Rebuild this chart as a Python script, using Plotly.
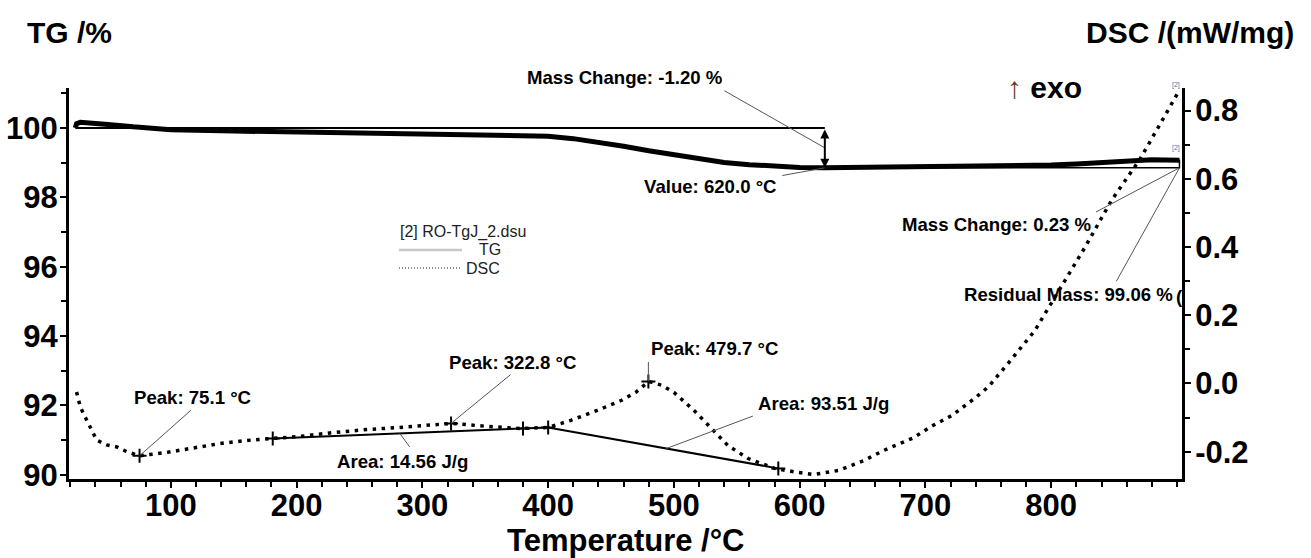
import plotly.graph_objects as go

# ---------------- data ----------------
tg_temp = [24, 25, 28, 35, 50, 70, 100, 150, 200, 250, 300, 350, 380, 400, 420, 440, 460, 480,
           500, 520, 540, 560, 580, 600, 620, 650, 700, 750, 800, 820, 840, 860, 880, 902]
tg_mass = [100.0, 100.12, 100.16, 100.15, 100.10, 100.03, 99.95, 99.91, 99.88, 99.86, 99.84, 99.82,
           99.79, 99.76, 99.69, 99.59, 99.47, 99.34, 99.22, 99.10, 99.00, 98.94, 98.89, 98.86,
           98.85, 98.86, 98.88, 98.90, 98.93, 98.96, 99.01, 99.06, 99.08, 99.07]

dsc_temp = [25, 28, 33, 41, 49, 57, 65, 75, 97, 121, 139, 160, 181, 203, 229, 256, 282, 309, 323,
            352, 378, 400, 418, 439, 458, 470, 480, 490, 500, 516, 530, 543, 559, 580, 599, 611,
            631, 651, 667, 690, 705, 721, 739, 750, 766, 787, 800, 827, 848, 870, 885, 902]
dsc_val = [-0.025, -0.069, -0.107, -0.166, -0.180, -0.186, -0.200, -0.212, -0.202, -0.188, -0.176,
           -0.167, -0.161, -0.155, -0.144, -0.135, -0.129, -0.120, -0.117, -0.126, -0.132, -0.129,
           -0.108, -0.079, -0.050, -0.025, 0.006, -0.005, -0.026, -0.079, -0.132, -0.182, -0.220,
           -0.249, -0.261, -0.267, -0.255, -0.226, -0.196, -0.160, -0.125, -0.094, -0.044, -0.010,
           0.060, 0.155, 0.235, 0.400, 0.537, 0.654, 0.750, 0.860]

# DSC evaluation: peaks and integration baselines
peak_temp = [75.1, 322.8, 479.7]
peak_val = [-0.212, -0.117, 0.006]
base1_temp = [181, 400]
base1_val = [-0.161, -0.129]
base2_temp = [400, 583]
base2_val = [-0.129, -0.249]
base_mark_temp = [181, 380, 400, 583]
base_mark_val = [-0.161, -0.132, -0.129, -0.249]
area_labels = ["Area: 14.56 J/g", "Area: 93.51 J/g"]
area_temp = [282, 494]

# TG evaluation
tg_start_level = 100.0
mass_change_temp = 620.0
tg_at_620 = 98.85
end_temp = 902
residual_mass = 99.07

x_ticks = [100, 200, 300, 400, 500, 600, 700, 800]
y_ticks = [90, 92, 94, 96, 98, 100]
y2_ticks = [-0.2, 0.0, 0.2, 0.4, 0.6, 0.8]
y2_ticktext = ["-0.2", "0.0", "0.2", "0.4", "0.6", "0.8"]

# ---------------- layout geometry ----------------
W, H = 1311, 558
L, R, T, B = 69, 129, 88, 79
PW, PH = W - L - R, H - T - B


def px(x):
    return (x - L) / PW


def py(y):
    return (H - B - y) / PH


FONT = "Liberation Sans, Arial, sans-serif"

fig = go.Figure()

# TG curve (thick)
fig.add_trace(go.Scatter(x=tg_temp, y=tg_mass, mode="lines", yaxis="y",
                         line=dict(color="black", width=5), showlegend=False))
# TG step helper lines
fig.add_trace(go.Scatter(x=[tg_temp[0], mass_change_temp], y=[tg_start_level, tg_start_level],
                         mode="lines", yaxis="y", line=dict(color="black", width=2), showlegend=False))
fig.add_trace(go.Scatter(x=[mass_change_temp, end_temp, end_temp],
                         y=[tg_at_620, tg_at_620, residual_mass + 0.02],
                         mode="lines", yaxis="y", line=dict(color="black", width=1.5), showlegend=False))

# DSC curve (dotted)
fig.add_trace(go.Scatter(x=dsc_temp, y=dsc_val, mode="lines", yaxis="y2",
                         line=dict(color="black", width=3.5, dash="3.5px,5.5px"), showlegend=False))
# baselines
fig.add_trace(go.Scatter(x=base1_temp, y=base1_val, mode="lines", yaxis="y2",
                         line=dict(color="black", width=2), showlegend=False))
fig.add_trace(go.Scatter(x=base2_temp, y=base2_val, mode="lines", yaxis="y2",
                         line=dict(color="black", width=2), showlegend=False))
# + markers
fig.add_trace(go.Scatter(x=peak_temp + base_mark_temp, y=peak_val + base_mark_val, mode="markers",
                         yaxis="y2", marker=dict(symbol="cross-thin", size=10,
                                                 line=dict(color="black", width=2)),
                         showlegend=False))

ann = []
lead = dict(showarrow=True, arrowhead=0, arrowwidth=1, arrowcolor="#555", text="")
tfont = dict(family=FONT, size=18.6, color="black", weight="bold")


def label(x, yref, y, text, lead_off, text_off):
    ann.append(dict(x=x, y=y, xref="x", yref=yref, ax=lead_off[0], ay=lead_off[1], **lead))
    ann.append(dict(x=x, y=y, xref="x", yref=yref, showarrow=False, text=text, font=tfont,
                    xshift=text_off[0], yshift=-text_off[1], xanchor="center", yanchor="middle"))


def interp(xs, ys, x):
    return ys[0] + (ys[1] - ys[0]) * (x - xs[0]) / (xs[1] - xs[0])


label(peak_temp[0], "y2", peak_val[0], "Peak: 75.1 °C", (53, -47), (53, -58))
label(peak_temp[1], "y2", peak_val[1], "Peak: 322.8 °C", (61, -50), (61, -61))
label(peak_temp[2], "y2", peak_val[2], "Peak: 479.7 °C", (0, -21), (66, -33))
label(area_temp[0], "y2", interp(base1_temp, base1_val, area_temp[0]), area_labels[0], (11, 15), (3, 28))
label(area_temp[1], "y2", interp(base2_temp, base2_val, area_temp[1]), area_labels[1], (88, -33), (157, -45))
label(mass_change_temp, "y", (tg_start_level + tg_at_620) / 2, "Mass Change: -1.20 %", (-102, -58), (-200, -70))
label(mass_change_temp, "y", tg_at_620, "Value: 620.0 °C", (-44, 8), (-114, 19))
label(end_temp, "y", tg_at_620, "Mass Change: 0.23 %", (-85, 45), (-182, 57))
label(end_temp, "y", tg_at_620, "Residual Mass: 99.06 %", (-64, 115), (-111, 127))

# double arrow for mass change
ann.append(dict(x=mass_change_temp, y=tg_at_620, xref="x", yref="y", axref="x", ayref="y",
                ax=mass_change_temp, ay=tg_start_level, text="", showarrow=True, arrowhead=2,
                arrowside="end+start", arrowsize=0.9, arrowwidth=2, arrowcolor="black"))

# clipped bracket near right axis
ann.append(dict(x=px(1179), y=py(296), xref="paper", yref="paper", text="(", showarrow=False,
                font=tfont, xanchor="center", yanchor="middle"))

# small [2] markers
for yy in (85, 148):
    ann.append(dict(x=px(1176), y=py(yy), xref="paper", yref="paper", text="[2]", showarrow=False,
                    font=dict(family=FONT, size=7, color="#3a78b5"), xanchor="center", yanchor="middle"))

# axis titles
title_font = dict(family=FONT, size=30, color="black", weight="bold")
ann.append(dict(x=px(25), y=py(33), xref="paper", yref="paper", text="TG /%", showarrow=False,
                font=title_font, xanchor="left", yanchor="middle"))
ann.append(dict(x=px(1296), y=py(33), xref="paper", yref="paper", text="DSC /(mW/mg)", showarrow=False,
                font=title_font, xanchor="right", yanchor="middle"))
ann.append(dict(x=px(626), y=py(540), xref="paper", yref="paper", text="Temperature /°C", showarrow=False,
                font=dict(family=FONT, size=31, color="black", weight="bold"), xanchor="center", yanchor="middle"))
ann.append(dict(x=px(1005), y=py(87), xref="paper", yref="paper",
                text="<span style='color:#6b3a1f'>↑</span> <b>exo</b>", showarrow=False,
                font=dict(family=FONT, size=30, color="black"), xanchor="left", yanchor="middle"))

# legend block
lfont = dict(family=FONT, size=16, color="#222")
ann.append(dict(x=px(398), y=py(232), xref="paper", yref="paper", text="[2] RO-TgJ_2.dsu", showarrow=False,
                font=lfont, xanchor="left", yanchor="middle"))
ann.append(dict(x=px(477), y=py(249), xref="paper", yref="paper", text="TG", showarrow=False,
                font=lfont, xanchor="left", yanchor="middle"))
ann.append(dict(x=px(464), y=py(268), xref="paper", yref="paper", text="DSC", showarrow=False,
                font=lfont, xanchor="left", yanchor="middle"))
shapes = [
    dict(type="line", xref="paper", yref="paper", x0=px(399), x1=px(462), y0=py(250), y1=py(250),
         line=dict(color="#c8c8c8", width=2.5)),
    dict(type="line", xref="paper", yref="paper", x0=px(399), x1=px(462), y0=py(268), y1=py(268),
         line=dict(color="#222", width=1, dash="1px,2px")),
]

tickfont = dict(family=FONT, size=31, color="black", weight="bold")
axis_common = dict(showline=True, linewidth=3, linecolor="black", ticks="outside", ticklen=6,
                   tickwidth=2, tickcolor="black", showgrid=False, zeroline=False, tickfont=tickfont)

fig.update_layout(
    width=W, height=H, margin=dict(l=L, r=R, t=T, b=B, autoexpand=False),
    paper_bgcolor="white", plot_bgcolor="white", showlegend=False,
    xaxis=dict(range=[19, 904], tickvals=x_ticks, ticklabelstandoff=-9, **axis_common,
               minor=dict(tickmode="linear", tick0=0, dtick=20, ticks="outside", ticklen=5,
                          tickwidth=2, tickcolor="black")),
    yaxis=dict(range=[89.88, 101.15], tickvals=y_ticks, ticklabelstandoff=-4, **axis_common,
               minor=dict(tickmode="linear", tick0=0, dtick=1, ticks="outside", ticklen=5,
                          tickwidth=2, tickcolor="black")),
    yaxis2=dict(range=[-0.28, 0.866], overlaying="y", side="right", anchor="x",
                tickvals=y2_ticks, ticktext=y2_ticktext, ticklabelstandoff=-2, **axis_common,
                minor=dict(tickmode="linear", tick0=0, dtick=0.1, ticks="outside", ticklen=5,
                           tickwidth=2, tickcolor="black")),
    annotations=ann, shapes=shapes,
)

fig.write_html("out.html")
